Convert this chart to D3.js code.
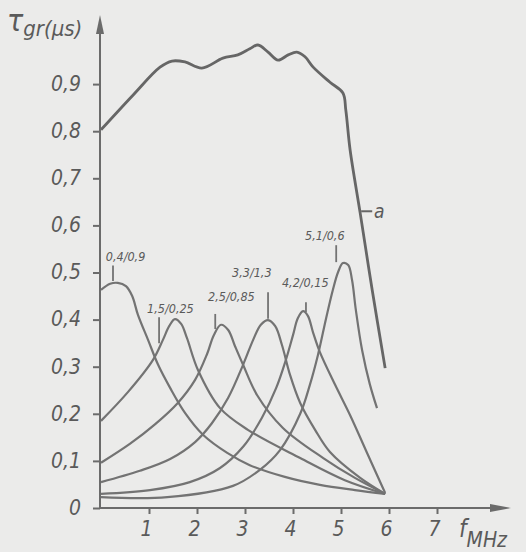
<!DOCTYPE html>
<html>
<head>
  <meta charset="utf-8" />
  <title>Group delay</title>
  <style>
    body { margin: 0; background: #ebebea; }
    svg { display: block; }
    .lbl { font-family: "DejaVu Sans Condensed", "DejaVu Sans", sans-serif; font-style: italic; fill: #5a5a5a; }
    .axis text { font-family: "DejaVu Sans Condensed", "DejaVu Sans", sans-serif; font-style: italic; font-size: 21px; fill: #5a5a5a; }
    .axis line, .axis path { stroke: #6b6b6b; stroke-width: 2px; }
  </style>
  <script src="https://cdnjs.cloudflare.com/ajax/libs/d3/7.8.5/d3.min.js"></script>
</head>
<body>
  <div id="chart"></div>
  <script>
    // axis ticks
    var xTicks = [1, 2, 3, 4, 5, 6, 7];
    var yTicks = [0, 0.1, 0.2, 0.3, 0.4, 0.5, 0.6, 0.7, 0.8, 0.9];
    var yTickLabels = ['0', '0,1', '0,2', '0,3', '0,4', '0,5', '0,6', '0,7', '0,8', '0,9'];

    // curve a (whole filter)
    var aFreq = [0, 0.67, 1.23, 1.48, 1.75, 2.10, 2.54, 2.85, 3.10, 3.27, 3.48, 3.69, 3.90, 4.08, 4.25, 4.42, 4.77, 5.04, 5.10, 5.19, 5.40, 5.65, 5.92];
    var aTau  = [0.803, 0.877, 0.936, 0.949, 0.947, 0.934, 0.955, 0.962, 0.975, 0.983, 0.968, 0.951, 0.962, 0.968, 0.958, 0.936, 0.904, 0.881, 0.845, 0.760, 0.626, 0.463, 0.297];

    // single resonators
    var r1Freq = [0, 0.19, 0.35, 0.52, 0.65, 0.77, 0.98, 1.19, 1.44, 1.75, 2.13, 2.63, 3.10, 3.83, 4.56, 5.29, 5.92];
    var r1Tau  = [0.463, 0.476, 0.478, 0.471, 0.450, 0.410, 0.357, 0.304, 0.255, 0.202, 0.155, 0.117, 0.091, 0.066, 0.049, 0.038, 0.030];
    var r2Freq = [0, 0.56, 1.08, 1.29, 1.42, 1.54, 1.67, 1.79, 2.02, 2.48, 3.06, 4.15, 5.08, 5.92];
    var r2Tau  = [0.185, 0.246, 0.314, 0.357, 0.386, 0.401, 0.391, 0.361, 0.293, 0.212, 0.166, 0.106, 0.059, 0.030];
    var r3Freq = [0, 0.60, 1.13, 1.60, 1.96, 2.21, 2.35, 2.50, 2.65, 2.79, 2.96, 3.25, 3.79, 4.63, 5.29, 5.92];
    var r3Tau  = [0.096, 0.136, 0.178, 0.223, 0.272, 0.327, 0.367, 0.389, 0.378, 0.344, 0.304, 0.240, 0.170, 0.106, 0.064, 0.030];
    var r4Freq = [0, 0.81, 1.44, 1.96, 2.31, 2.65, 2.96, 3.17, 3.33, 3.48, 3.63, 3.77, 3.94, 4.15, 4.46, 4.77, 5.40, 5.92];
    var r4Tau  = [0.055, 0.079, 0.104, 0.140, 0.180, 0.234, 0.304, 0.357, 0.389, 0.399, 0.386, 0.346, 0.282, 0.223, 0.166, 0.119, 0.064, 0.030];
    var r5Freq = [0, 1.02, 1.85, 2.48, 2.96, 3.35, 3.65, 3.85, 4.00, 4.10, 4.21, 4.31, 4.42, 4.56, 4.88, 5.19, 5.56, 5.92];
    var r5Tau  = [0.030, 0.038, 0.055, 0.085, 0.130, 0.191, 0.255, 0.314, 0.367, 0.403, 0.418, 0.408, 0.372, 0.331, 0.261, 0.197, 0.113, 0.032];
    var r6Freq = [0, 1.38, 2.75, 3.31, 3.73, 4.15, 4.35, 4.52, 4.69, 4.83, 4.94, 5.04, 5.15, 5.23, 5.31, 5.44, 5.60, 5.75];
    var r6Tau  = [0.023, 0.023, 0.047, 0.081, 0.123, 0.200, 0.261, 0.325, 0.403, 0.463, 0.501, 0.520, 0.516, 0.484, 0.420, 0.335, 0.263, 0.212];

    var resLabels = ['0,4/0,9', '1,5/0,25', '2,5/0,85', '3,3/1,3', '4,2/0,15', '5,1/0,6'];

    var W = 526, H = 552;
    var x = d3.scaleLinear().domain([0, 8]).range([101, 485]);
    var y = d3.scaleLinear().domain([0, 1]).range([508, 37]);

    var svg = d3.select('#chart').append('svg')
      .attr('width', W)
      .attr('height', H);

    svg.append('rect').attr('width', W).attr('height', H).attr('fill', '#ebebea');

    var line = d3.line()
      .x(d => x(d[0]))
      .y(d => y(d[1]))
      .curve(d3.curveCatmullRom.alpha(0.5));

    // resonator curves
    var res = [[r1Freq, r1Tau], [r2Freq, r2Tau], [r3Freq, r3Tau], [r4Freq, r4Tau], [r5Freq, r5Tau], [r6Freq, r6Tau]];
    res.forEach(r => {
      svg.append('path')
        .datum(d3.zip(r[0], r[1]))
        .attr('d', line)
        .attr('fill', 'none')
        .attr('stroke', '#737373')
        .attr('stroke-width', 2.2);
    });

    // curve a
    svg.append('path')
      .datum(d3.zip(aFreq, aTau))
      .attr('d', line)
      .attr('fill', 'none')
      .attr('stroke', '#666')
      .attr('stroke-width', 2.8)
      .attr('stroke-linejoin', 'round');

    // axes
    var yAxis = d3.axisLeft(y)
      .tickValues(yTicks)
      .tickFormat((d, i) => yTickLabels[i])
      .tickSize(7)
      .tickSizeOuter(0)
      .tickPadding(12);
    var gy = svg.append('g').attr('class', 'axis').attr('transform', 'translate(' + (x(0) - 1) + ',0)').call(yAxis);
    gy.select('.domain').remove();
    gy.selectAll('text').attr('dy', '0.3em');

    var xAxis = d3.axisBottom(x)
      .tickValues(xTicks)
      .tickFormat(d3.format('d'))
      .tickSize(6)
      .tickSizeOuter(0)
      .tickPadding(7);
    var gx = svg.append('g').attr('class', 'axis').attr('transform', 'translate(0,' + y(0) + ')').call(xAxis);
    gx.select('.domain').remove();
    gx.selectAll('text').attr('dx', '-3');

    var ax = x(0) - 1, ay = y(0);
    svg.append('line').attr('x1', ax).attr('y1', ay).attr('x2', ax).attr('y2', 30)
      .attr('stroke', '#6b6b6b').attr('stroke-width', 2);
    svg.append('path').attr('d', 'M' + ax + ',15 L' + (ax - 4) + ',34 L' + (ax + 4) + ',34 Z').attr('fill', '#6b6b6b');
    svg.append('line').attr('x1', ax).attr('y1', ay).attr('x2', 495).attr('y2', ay)
      .attr('stroke', '#6b6b6b').attr('stroke-width', 2);
    svg.append('path').attr('d', 'M511,' + ay + ' L490,' + (ay - 4) + ' L490,' + (ay + 4) + ' Z').attr('fill', '#6b6b6b');

    // axis titles
    var yt = svg.append('text').attr('class', 'lbl').attr('x', 7).attr('y', 31);
    yt.append('tspan').attr('font-size', 30).text('τ');
    yt.append('tspan').attr('font-size', 22).attr('dy', 5).text('gr(μs)');
    var xt = svg.append('text').attr('class', 'lbl').attr('x', 459).attr('y', 537);
    xt.append('tspan').attr('font-size', 24).text('f');
    xt.append('tspan').attr('font-size', 21).attr('dy', 10).text('MHz');

    // curve labels with leader lines (in data coords)
    var labelPos = [
      { f: 0.10, t: 0.525, lf: 0.25, lt0: 0.515, lt1: 0.482 },
      { f: 0.96, t: 0.415, lf: 1.21, lt0: 0.405, lt1: 0.350 },
      { f: 2.23, t: 0.440, lf: 2.38, lt0: 0.412, lt1: 0.380 },
      { f: 2.73, t: 0.490, lf: 3.48, lt0: 0.458, lt1: 0.402 },
      { f: 3.77, t: 0.470, lf: 4.27, lt0: 0.437, lt1: 0.416 },
      { f: 4.25, t: 0.570, lf: 4.90, lt0: 0.558, lt1: 0.522 }
    ];
    labelPos.forEach((p, i) => {
      svg.append('text').attr('class', 'lbl')
        .attr('x', x(p.f)).attr('y', y(p.t))
        .attr('font-size', 12.5)
        .text(resLabels[i]);
      svg.append('line')
        .attr('x1', x(p.lf)).attr('y1', y(p.lt0))
        .attr('x2', x(p.lf)).attr('y2', y(p.lt1))
        .attr('stroke', '#737373').attr('stroke-width', 1.8);
    });

    // label a
    svg.append('line').attr('x1', x(5.42)).attr('y1', y(0.63)).attr('x2', x(5.65)).attr('y2', y(0.63))
      .attr('stroke', '#666').attr('stroke-width', 2);
    svg.append('text').attr('class', 'lbl').attr('x', x(5.69)).attr('y', y(0.615))
      .attr('font-size', 19).text('a');
  </script>
</body>
</html>
